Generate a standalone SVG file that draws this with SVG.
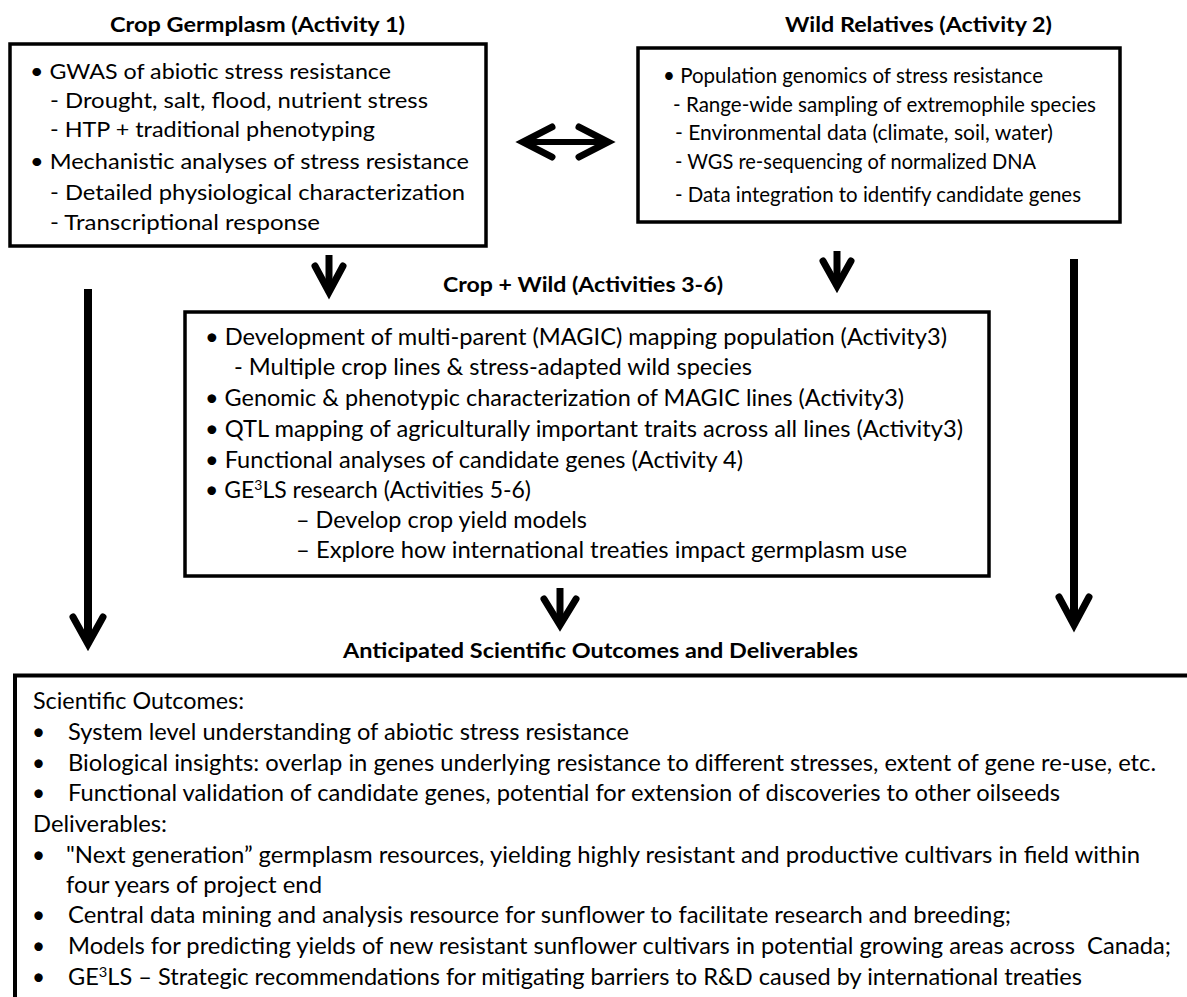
<svg xmlns="http://www.w3.org/2000/svg" width="1187" height="997" viewBox="0 0 1187 997">
<style>
.t{font-family:Lato,"Liberation Sans",sans-serif;fill:#000}
.h{font-family:Lato,"Liberation Sans",sans-serif;font-weight:700;font-size:21.5px;fill:#000}
.b1{font-size:21px}
.b3{font-size:23px}
.b4{font-size:22.5px}
.box{fill:#fff;stroke:#000;stroke-width:3.5}
.shaft{stroke:#000;fill:none}
.head{stroke:#000;fill:none;stroke-linejoin:miter;stroke-miterlimit:10;stroke-linecap:round}
</style>
<rect width="1187" height="997" fill="#fff"/>

<g id="connectors">
  <g id="c-bidir">
    <line class="shaft" x1="526" y1="142" x2="605" y2="142" stroke-width="6"/>
    <polyline class="head" points="552,127 523,142 552,157" stroke-width="7"/>
    <polyline class="head" points="579,127 608,142 579,157" stroke-width="7"/>
  </g>
  <g id="c-1-3">
    <line class="shaft" x1="329" y1="255" x2="329" y2="290" stroke-width="7"/>
    <polyline class="head" points="315,266 329,292 343,266" stroke-width="7"/>
  </g>
  <g id="c-2-3">
    <line class="shaft" x1="837" y1="251" x2="837" y2="284" stroke-width="7"/>
    <polyline class="head" points="823,261 837,286 851,261" stroke-width="7"/>
  </g>
  <g id="c-3-4">
    <line class="shaft" x1="560" y1="588" x2="560" y2="623" stroke-width="7"/>
    <polyline class="head" points="544,599 560,625 576,599" stroke-width="7"/>
  </g>
  <g id="c-1-4">
    <line class="shaft" x1="88" y1="289" x2="88" y2="642" stroke-width="8"/>
    <polyline class="head" points="73,617 88,644 103,617" stroke-width="7"/>
  </g>
  <g id="c-2-4">
    <line class="shaft" x1="1074" y1="259" x2="1074" y2="623" stroke-width="8"/>
    <polyline class="head" points="1059,597 1074,625 1089,597" stroke-width="7"/>
  </g>
</g>

<g id="node-activity1">
  <text class="h" x="110" y="32" textLength="295" lengthAdjust="spacingAndGlyphs">Crop Germplasm (Activity 1)</text>
  <rect class="box" x="10" y="44" width="476" height="202"/>
  <g class="t b1">
    <text x="30" y="79" textLength="361" lengthAdjust="spacingAndGlyphs">• GWAS of abiotic stress resistance</text>
    <text x="50" y="108" textLength="378" lengthAdjust="spacingAndGlyphs">- Drought, salt, flood, nutrient stress</text>
    <text x="50" y="137" textLength="325" lengthAdjust="spacingAndGlyphs">- HTP + traditional phenotyping</text>
    <text x="30" y="169" textLength="439" lengthAdjust="spacingAndGlyphs">• Mechanistic analyses of stress resistance</text>
    <text x="50" y="200" textLength="415" lengthAdjust="spacingAndGlyphs">- Detailed physiological characterization</text>
    <text x="50" y="230" textLength="270" lengthAdjust="spacingAndGlyphs">- Transcriptional response</text>
  </g>
</g>

<g id="node-activity2">
  <text class="h" x="785" y="32" textLength="267" lengthAdjust="spacingAndGlyphs">Wild Relatives (Activity 2)</text>
  <rect class="box" x="638" y="48" width="482" height="174"/>
  <g class="t b1">
    <text x="663" y="83" textLength="380" lengthAdjust="spacingAndGlyphs">• Population genomics of stress resistance</text>
    <text x="673" y="112" textLength="423" lengthAdjust="spacingAndGlyphs">- Range-wide sampling of extremophile species</text>
    <text x="675" y="140" textLength="378" lengthAdjust="spacingAndGlyphs">- Environmental data (climate, soil, water)</text>
    <text x="675" y="169" textLength="361" lengthAdjust="spacingAndGlyphs">- WGS re-sequencing of normalized DNA</text>
    <text x="675" y="202" textLength="406" lengthAdjust="spacingAndGlyphs">- Data integration to identify candidate genes</text>
  </g>
</g>

<g id="node-activities3-6">
  <text class="h" x="443" y="292" textLength="280" lengthAdjust="spacingAndGlyphs">Crop + Wild (Activities 3-6)</text>
  <rect class="box" x="185" y="312" width="804" height="264"/>
  <g class="t b3">
    <text x="205" y="345" textLength="742" lengthAdjust="spacingAndGlyphs">• Development of multi-parent (MAGIC) mapping population (Activity3)</text>
    <text x="234" y="375" textLength="518" lengthAdjust="spacingAndGlyphs">- Multiple crop lines &amp; stress-adapted wild species</text>
    <text x="205" y="406" textLength="699" lengthAdjust="spacingAndGlyphs">• Genomic &amp; phenotypic characterization of MAGIC lines (Activity3)</text>
    <text x="205" y="437" textLength="758" lengthAdjust="spacingAndGlyphs">• QTL mapping of agriculturally important traits across all lines (Activity3)</text>
    <text x="205" y="468" textLength="538" lengthAdjust="spacingAndGlyphs">• Functional analyses of candidate genes (Activity 4)</text>
    <text x="205" y="498" textLength="326" lengthAdjust="spacingAndGlyphs">• GE<tspan font-size="14" dy="-8">3</tspan><tspan dy="8">LS research (Activities 5-6)</tspan></text>
    <text x="296" y="528" textLength="291" lengthAdjust="spacingAndGlyphs">– Develop crop yield models</text>
    <text x="296" y="558" textLength="611" lengthAdjust="spacingAndGlyphs">– Explore how international treaties impact germplasm use</text>
  </g>
</g>

<g id="node-outcomes">
  <text class="h" x="343" y="658" textLength="515" lengthAdjust="spacingAndGlyphs">Anticipated Scientific Outcomes and Deliverables</text>
  <path d="M15,1005 V675.5 H1195" fill="none" stroke="#000" stroke-width="4"/>
  <g class="t b4">
    <text x="33" y="709" textLength="211" lengthAdjust="spacingAndGlyphs">Scientific Outcomes:</text>
    <text x="32" y="740">•</text>
    <text x="68" y="740" textLength="561" lengthAdjust="spacingAndGlyphs">System level understanding of abiotic stress resistance</text>
    <text x="32" y="771">•</text>
    <text x="68" y="771" textLength="1088" lengthAdjust="spacingAndGlyphs">Biological insights: overlap in genes underlying resistance to different stresses, extent of gene re-use, etc.</text>
    <text x="32" y="801">•</text>
    <text x="68" y="801" textLength="992" lengthAdjust="spacingAndGlyphs">Functional validation of candidate genes, potential for extension of discoveries to other oilseeds</text>
    <text x="33" y="832" textLength="134" lengthAdjust="spacingAndGlyphs">Deliverables:</text>
    <text x="32" y="863">•</text>
    <text x="66" y="863" textLength="1074" lengthAdjust="spacingAndGlyphs">"Next generation” germplasm resources, yielding highly resistant and productive cultivars in field within</text>
    <text x="66" y="893" textLength="256" lengthAdjust="spacingAndGlyphs">four years of project end</text>
    <text x="32" y="923">•</text>
    <text x="68" y="923" textLength="943" lengthAdjust="spacingAndGlyphs">Central data mining and analysis resource for sunflower to facilitate research and breeding;</text>
    <text x="32" y="954">•</text>
    <text x="68" y="954" textLength="1103" lengthAdjust="spacingAndGlyphs">Models for predicting yields of new resistant sunflower cultivars in potential growing areas across&#160; Canada;</text>
    <text x="32" y="985">•</text>
    <text x="68" y="985" textLength="1014" lengthAdjust="spacingAndGlyphs">GE<tspan font-size="14" dy="-8">3</tspan><tspan dy="8">LS – Strategic recommendations for mitigating barriers to R&amp;D caused by international treaties</tspan></text>
  </g>
</g>
</svg>
